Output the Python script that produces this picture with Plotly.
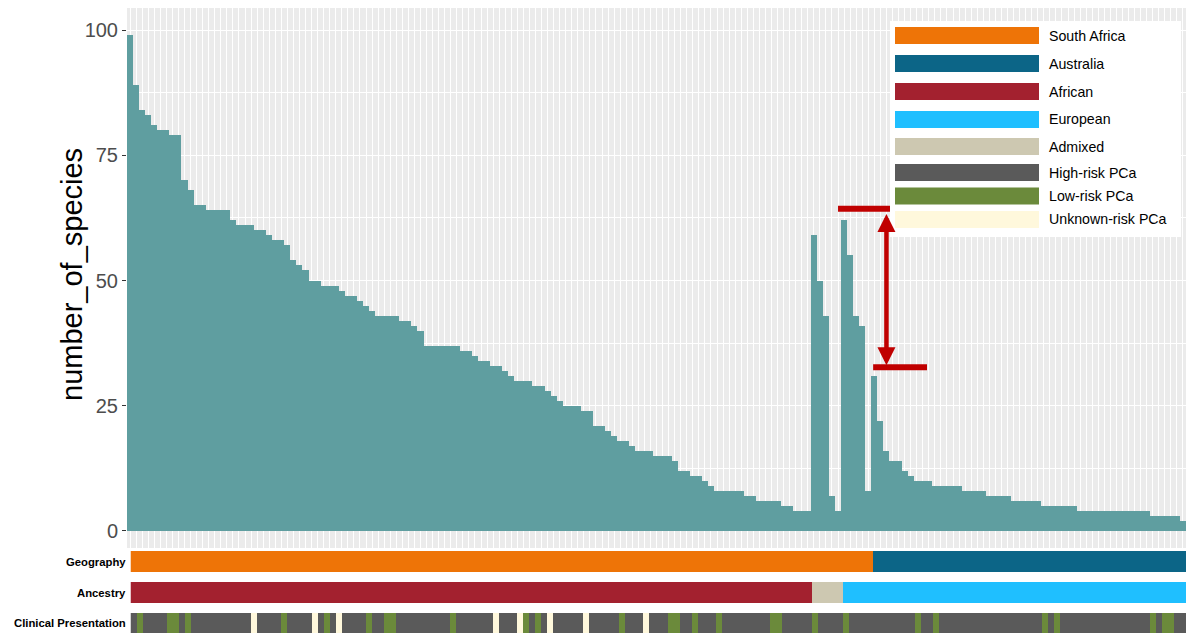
import plotly.graph_objects as go

# ---------------- data ----------------
samples = list(range(1, 176))

species = [
    99, 89, 84, 83, 81, 80, 80, 79, 79,
    70, 68, 65, 65, 64, 64, 64, 64, 62, 61, 61, 61, 60, 60, 59, 58, 58, 57, 54, 53, 52,
    50, 50, 49, 49, 49, 48, 47, 47, 46, 45, 44, 43, 43, 43, 43, 42, 42, 41, 40,
    37, 37, 37, 37, 37, 37, 36, 36, 35, 34, 34, 33, 33, 32, 31, 30, 30, 30, 29, 29, 28, 27, 26,
    25, 25, 25, 24, 24, 21, 21, 20, 19, 18, 18, 17, 16, 16, 16, 15, 15, 15, 14, 12, 12,
    11, 11, 10, 9, 8, 8, 8, 8, 8, 7, 7, 6, 6, 6, 6, 5, 5, 4, 4, 4,
    59, 50, 43, 7, 4, 62, 55, 43, 41, 8, 31, 22, 16, 14, 14, 12, 11, 10, 10, 10,
    9, 9, 9, 9, 9, 8, 8, 8, 8, 7, 7, 7, 7, 6, 6, 6, 6, 6, 5, 5, 5, 5, 5, 5,
    4, 4, 4, 4, 4, 4, 4, 4, 4, 4, 4, 4, 3, 3, 3, 3, 3, 2,
]

geo_labels = ["South Africa", "Australia"]
geo_counts = [123, 52]

anc_labels = ["African", "Admixed", "European"]
anc_counts = [113, 5, 57]

clin_labels = ["High-risk PCa", "Low-risk PCa", "Unknown-risk PCa"]
low_risk_samples = [2, 7, 8, 10, 26, 33, 40, 43, 44, 54, 66, 68, 82, 90, 91, 94, 98,
                    107, 108, 114, 119, 131, 134, 152, 154, 170, 172, 173]
unknown_risk_samples = [21, 31, 35, 61, 65, 70, 76, 86]

colors = {
    "South Africa": "#EE7407",
    "Australia": "#0C6587",
    "African": "#A3212F",
    "European": "#1FBFFF",
    "Admixed": "#CDC8B1",
    "High-risk PCa": "#5A5A5A",
    "Low-risk PCa": "#6B8A3B",
    "Unknown-risk PCa": "#FFF8DC",
}
legend_order = ["South Africa", "Australia", "African", "European", "Admixed",
                "High-risk PCa", "Low-risk PCa", "Unknown-risk PCa"]

# ---------------- derived ----------------
def expand(labels, counts):
    out = []
    for lab, c in zip(labels, counts):
        out += [lab] * c
    return out

geography = expand(geo_labels, geo_counts)
ancestry = expand(anc_labels, anc_counts)
clinical = []
for s in samples:
    if s in low_risk_samples:
        clinical.append("Low-risk PCa")
    elif s in unknown_risk_samples:
        clinical.append("Unknown-risk PCa")
    else:
        clinical.append("High-risk PCa")

W, H = 1186, 633
L = 127
PW = W - L

def py(p):  # pixel y -> paper
    return 1 - p / H

def px(p):  # pixel x -> paper
    return (p - L) / PW

TXT = "Liberation Sans, Arial, sans-serif"

fig = go.Figure()

fig.add_trace(go.Bar(
    x=samples, y=species, width=1,
    marker=dict(color="#5F9EA0", line=dict(width=0)),
    xaxis="x", yaxis="y", showlegend=False, hoverinfo="skip",
))

def strip(values, labels, yaxis):
    n = len(labels)
    code = {lab: i for i, lab in enumerate(labels)}
    cs = []
    for i, lab in enumerate(labels):
        cs.append([i / n, colors[lab]])
        cs.append([(i + 1) / n, colors[lab]])
    fig.add_trace(go.Heatmap(
        x=samples, y=[0], z=[[code[v] for v in values]],
        zmin=-0.5, zmax=n - 0.5, colorscale=cs, showscale=False,
        xaxis="x2", yaxis=yaxis, hoverinfo="skip", xgap=0, ygap=0,
    ))

strip(geography, geo_labels, "y2")
strip(ancestry, anc_labels, "y3")
strip(clinical, clin_labels, "y4")

strip_x_domain = [px(130.5), 1]
fig.update_layout(
    width=W, height=H,
    margin=dict(l=L, r=0, t=0, b=0),
    paper_bgcolor="white", plot_bgcolor="white",
    showlegend=False,
    bargap=0,
    xaxis=dict(domain=[0, 1], range=[0.5, 175.5], tickvals=samples,
               showticklabels=False, ticks="", showgrid=True,
               gridcolor="white", gridwidth=1, zeroline=False, showline=False,
               anchor="y"),
    yaxis=dict(domain=[py(548), py(8)], range=[-3.4, 104.4],
               tickvals=[0, 25, 50, 75, 100], ticks="outside", ticklen=4,
               tickcolor="#333333", tickwidth=1,
               tickfont=dict(family=TXT, size=20, color="#4D4D4D"),
               showgrid=True, gridcolor="white", gridwidth=1.2,
               minor=dict(tickvals=[12.5, 37.5, 62.5, 87.5], showgrid=True,
                          gridcolor="white", gridwidth=0.6, ticks=""),
               zeroline=False, showline=False,
               anchor="x"),
    xaxis2=dict(domain=strip_x_domain, range=[0.5, 175.5], showticklabels=False,
                ticks="", showgrid=False, zeroline=False, showline=False, anchor="y2"),
    yaxis2=dict(domain=[py(572), py(551)], showticklabels=False, ticks="",
                showgrid=False, zeroline=False, anchor="x2"),
    yaxis3=dict(domain=[py(603), py(582)], showticklabels=False, ticks="",
                showgrid=False, zeroline=False, anchor="x2"),
    yaxis4=dict(domain=[0, py(613)], showticklabels=False, ticks="",
                showgrid=False, zeroline=False, anchor="x2"),
)

shapes = []
# main panel background
shapes.append(dict(type="rect", xref="x domain", yref="y domain", x0=0, x1=1, y0=0, y1=1,
                   fillcolor="#EBEBEB", line=dict(width=0), layer="below"))

# red highlight annotation (top/bottom bars)
RED = "#C00000"
shapes.append(dict(type="line", xref="x", yref="y", x0=118.0, x1=127.4, y0=64.3, y1=64.3,
                   line=dict(color=RED, width=6)))
shapes.append(dict(type="line", xref="x", yref="y", x0=123.8, x1=132.7, y0=32.7, y1=32.7,
                   line=dict(color=RED, width=6)))

# custom legend
shapes.append(dict(type="rect", xref="paper", yref="paper", x0=px(890), x1=px(1181),
                   y0=py(237), y1=py(21), fillcolor="white", line=dict(width=0)))
legend_y = [35.5, 63.5, 91.5, 119.5, 146.5, 172.5, 196, 219.5]
annotations = []
for lab, yc in zip(legend_order, legend_y):
    shapes.append(dict(type="rect", xref="paper", yref="paper", x0=px(895), x1=px(1039),
                       y0=py(yc + 8.5), y1=py(yc - 8.5), fillcolor=colors[lab],
                       line=dict(width=0)))
    annotations.append(dict(xref="paper", yref="paper", x=px(1047), y=py(yc), text=lab,
                            showarrow=False, xanchor="left", yanchor="middle",
                            font=dict(family=TXT, size=14.2, color="black")))

# y-axis title
annotations.append(dict(xref="paper", yref="paper", x=px(72), y=py(275),
                        text="number_of_species", textangle=-90, showarrow=False,
                        xanchor="center", yanchor="middle",
                        font=dict(family=TXT, size=29, color="black")))

# arrow
annotations.append(dict(xref="x", yref="y", axref="x", ayref="y",
                        x=126.0, y=33.1, ax=126.0, ay=63.6, text="",
                        showarrow=True, arrowside="end+start",
                        arrowhead=2, startarrowhead=2, arrowsize=0.8, startarrowsize=0.8,
                        arrowwidth=4.5, arrowcolor=RED))

# strip labels
for txt, yc in [("Geography", 561.5), ("Ancestry", 592.5), ("Clinical Presentation", 623)]:
    annotations.append(dict(xref="paper", yref="paper", x=px(128), y=py(yc), text="<b>%s</b>" % txt,
                            showarrow=False, xanchor="right", yanchor="middle",
                            font=dict(family=TXT, size=11.3, color="black")))

fig.update_layout(shapes=shapes, annotations=annotations)
fig.write_html("out.html", config={"displayModeBar": False},
               post_script="document.body.style.margin='0px';document.body.style.overflow='hidden';")
